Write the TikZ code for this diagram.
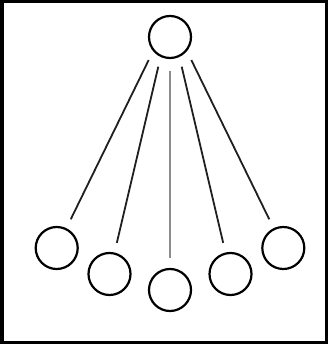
\documentclass[tikz,border=0pt]{standalone}
\begin{document}
\begin{tikzpicture}[x=1pt,y=-1pt,
  ball/.style={circle,draw=black,line width=2.2pt,minimum size=42pt,inner sep=0pt,outer sep=0pt},
  rod/.style={draw=black!88,line width=1.8pt,shorten >=11pt},
  midrod/.style={draw=black!45,line width=2pt,shorten >=11pt}]
\useasboundingbox (0,0) rectangle (328,344);
\draw[line width=3.5pt] (1.75,1.75) rectangle (326.25,342.25);
\node[ball] (top) at (170,37) {};
\node[ball] (b1) at (56.7,248) {};
\node[ball] (b2) at (109.5,274) {};
\node[ball] (b3) at (170,290) {};
\node[ball] (b4) at (230.5,274) {};
\node[ball] (b5) at (283.3,248) {};
\coordinate (t1) at (148.7,60);
\coordinate (t2) at (158.3,66.7);
\coordinate (t3) at (170,70.7);
\coordinate (t4) at (181.7,66.7);
\coordinate (t5) at (191.3,60);
\draw[rod] (t1) -- (b1);
\draw[rod] (t2) -- (b2);
\draw[midrod] (t3) -- (b3);
\draw[rod] (t4) -- (b4);
\draw[rod] (t5) -- (b5);
\end{tikzpicture}
\end{document}
